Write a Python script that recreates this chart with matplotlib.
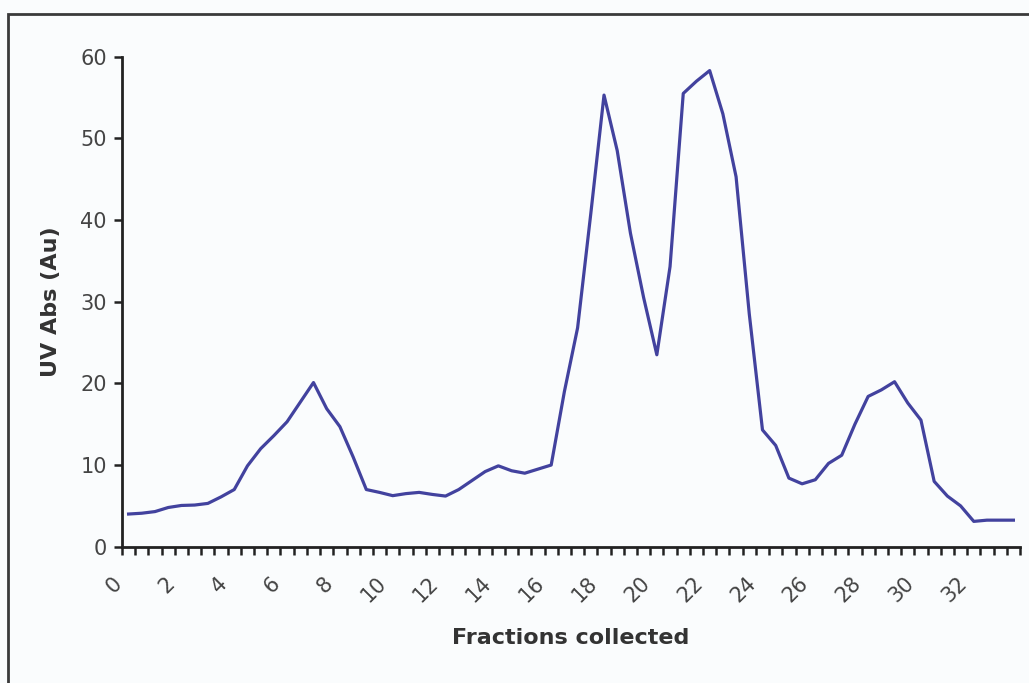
import matplotlib
matplotlib.use("Agg")
import matplotlib.pyplot as plt
from matplotlib.patches import Rectangle
from matplotlib.transforms import ScaledTranslation

# fractions collected (category axis, one point every half fraction)
fractions = [i * 0.5 for i in range(68)]
uv_abs = [4.0, 4.1, 4.3, 4.8, 5.05, 5.1, 5.3, 6.1, 7.0, 9.9,
          12.0, 13.6, 15.3, 17.7, 20.1, 16.9, 14.7, 11.0, 7.0, 6.65,
          6.25, 6.5, 6.65, 6.4, 6.2, 7.0, 8.1, 9.2, 9.9, 9.3,
          9.0, 9.5, 10.0, 19.0, 26.8, 40.8, 55.3, 48.5, 38.4, 30.5,
          23.5, 34.3, 55.5, 57.0, 58.3, 53.0, 45.3, 28.5, 14.3, 12.4,
          8.4, 7.7, 8.2, 10.2, 11.2, 15.0, 18.4, 19.2, 20.2, 17.6,
          15.5, 8.0, 6.2, 5.0, 3.1, 3.25, 3.25, 3.25]
label_pos = [float(v) for v in range(0, 33, 2)]
label_txt = [str(v) for v in range(0, 33, 2)]

bg = "#fafcfd"
fig = plt.figure(figsize=(10.29, 6.83), dpi=100, facecolor=bg)
# outer chart frame
fig.patches.append(Rectangle((8 / 1029, -0.05), 1.1, 1 - 14 / 683 + 0.05,
                             transform=fig.transFigure, fill=False,
                             edgecolor="#3a3a3a", linewidth=2))

ax = fig.add_axes([122 / 1029, 1 - 546.7 / 683, (1020 - 122) / 1029, (546.7 - 56.7) / 683])
ax.set_facecolor(bg)
ax.plot(fractions, uv_abs, color="#42429e", linewidth=2.3, solid_joinstyle="round")

ax.set_xlim(-0.25, 33.75)
ax.set_ylim(0, 60)
ax.set_yticks(range(0, 61, 10))
for s in ["top", "right"]:
    ax.spines[s].set_visible(False)
for s in ["left", "bottom"]:
    ax.spines[s].set_linewidth(2)
    ax.spines[s].set_color("#222222")

ax.tick_params(axis="y", direction="out", length=6, width=1.8, color="#222222",
               labelsize=15, labelcolor="#444444", pad=5)
ax.set_xticks(label_pos)
ax.set_xticklabels(label_txt, rotation=45, ha="right", va="top", rotation_mode="anchor")
ax.tick_params(axis="x", which="major", length=0, labelsize=15, labelcolor="#444444", pad=19)
ax.set_xticks([-0.25 + 0.5 * i for i in range(69)], minor=True)
ax.tick_params(axis="x", which="minor", direction="out", length=6, width=1.8, color="#222222")
for lab in ax.get_xticklabels():
    lab.set_transform(lab.get_transform() + ScaledTranslation(-0.17, 0, fig.dpi_scale_trans))

ax.set_ylabel("UV Abs (Au)", fontsize=16, fontweight="bold", color="#333333", labelpad=14)
ax.set_xlabel("Fractions collected", fontsize=16, fontweight="bold", color="#333333", labelpad=16)

fig.savefig("out.png", dpi=100, facecolor=bg)
